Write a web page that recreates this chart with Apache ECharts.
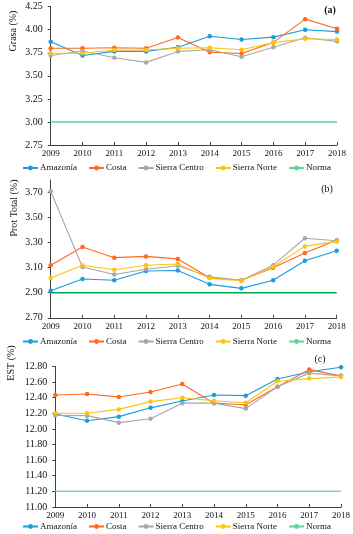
<!DOCTYPE html>
<html><head><meta charset="utf-8">
<script src="https://cdn.jsdelivr.net/npm/echarts@6/dist/echarts.min.js"></script>
<style>html,body{margin:0;padding:0;background:#fff}#c{width:353px;height:534px}</style>
</head><body><div id="c"></div>
<script>
const years = ['2009','2010','2011','2012','2013','2014','2015','2016','2017','2018'];
const seriesNames = ['Amazonía','Costa','Sierra Centro','Sierra Norte','Norma'];

// (a) Grasa (%)
const grasaAmazonia = [3.87,3.72,3.765,3.765,3.81,3.93,3.895,3.92,4.00,3.98];
const grasaCosta = [3.80,3.80,3.805,3.80,3.915,3.757,3.743,3.863,4.115,4.01];
const grasaSCentro = [3.72,3.77,3.696,3.646,3.765,3.783,3.707,3.81,3.913,3.874];
const grasaSNorte = [3.745,3.745,3.78,3.78,3.80,3.804,3.783,3.86,3.902,3.895];
const grasaNorma = 3.00;

// (b) Prot Total (%)
const protAmazonia = [2.916,3.01,3.00,3.073,3.078,2.967,2.935,3.00,3.155,3.235];
const protCosta = [3.12,3.265,3.18,3.19,3.17,3.02,3.00,3.10,3.218,3.32];
const protSCentro = [3.71,3.105,3.045,3.088,3.115,3.027,3.00,3.12,3.335,3.315];
const protSNorte = [3.017,3.12,3.083,3.12,3.13,3.015,2.996,3.107,3.27,3.31];
const protNorma = 2.90;

// (c) EST (%)
const estAmazonia = [12.19,12.105,12.157,12.27,12.358,12.435,12.426,12.64,12.733,12.79];
const estCosta = [12.435,12.447,12.41,12.473,12.576,12.33,12.31,12.54,12.76,12.68];
const estSCentro = [12.174,12.17,12.08,12.13,12.33,12.33,12.26,12.54,12.715,12.68];
const estSNorte = [12.20,12.20,12.25,12.35,12.40,12.36,12.335,12.61,12.645,12.665];
const estNorma = 11.20;

const colors = {'Amazonía':'#1A9DDA','Costa':'#FF6A1C','Sierra Centro':'#A8A8A8','Sierra Norte':'#FFC20E','Norma':'#2DB56C'};
const normaColors = ['#5ED49A','#00A54F','#7ED9A5'];
const FONT = 'Liberation Serif';

const grids = [
  {left:50.7, right:16, top:6.7, height:138.3},
  {left:50.7, right:16.3, top:180, height:137.8},
  {left:55.3, right:12, top:366.5, height:140.4}
];
const yCfg = [
  {min:2.75, max:4.25, interval:0.25},
  {min:2.7, max:3.8, interval:0.2},
  {min:11.0, max:12.8, interval:0.2}
];
const data = [
  [grasaAmazonia,grasaCosta,grasaSCentro,grasaSNorte,grasaNorma],
  [protAmazonia,protCosta,protSCentro,protSNorte,protNorma],
  [estAmazonia,estCosta,estSCentro,estSNorte,estNorma]
];

const xAxis = [], yAxis = [], series = [];
for (let g=0; g<3; g++){
  xAxis.push({type:'category', gridIndex:g, data:years, boundaryGap:false,
    axisLine:{lineStyle:{color:'#404040',width:1}},
    axisTick:{show:true,length:3,inside:true,lineStyle:{color:'#404040'}},
    axisLabel:{color:'#111',fontFamily:FONT,fontSize:9,margin:4},
    splitLine:{show:false}});
  yAxis.push({type:'value', gridIndex:g, min:yCfg[g].min, max:yCfg[g].max, interval:yCfg[g].interval,
    axisLine:{show:true,lineStyle:{color:'#404040',width:1}},
    axisTick:{show:true,length:3,lineStyle:{color:'#404040'}},
    axisLabel:{color:'#111',fontFamily:FONT,fontSize:10,margin:8,showMaxLabel:g!==1,
      formatter:v=>v.toFixed(2)},
    splitLine:{show:false}});
  for (let s=0; s<5; s++){
    const name = seriesNames[s];
    if (s<4){
      series.push({name, type:'line', xAxisIndex:g, yAxisIndex:g, data:data[g][s],
        symbol:'circle', symbolSize:4.5, showSymbol:true,
        itemStyle:{color:colors[name]}, lineStyle:{color:colors[name],width:1.1},
        emphasis:{disabled:true}, animation:false, z:3+s});
    } else {
      series.push({name, type:'line', xAxisIndex:g, yAxisIndex:g, data:years.map(()=>data[g][4]),
        symbol:'none', showSymbol:false,
        itemStyle:{color:normaColors[g]}, lineStyle:{color:normaColors[g],width:1.5},
        emphasis:{disabled:true}, animation:false, z:2});
    }
  }
}

const legendTops = [163.5, 337, 522];
const legend = legendTops.map(t=>({top:t, left:'center', data:seriesNames, itemWidth:15, itemHeight:6,
  itemGap:11, textStyle:{fontFamily:FONT,fontSize:9,color:'#111',padding:[0,0,0,-3]}, padding:0,
  selectedMode:false}));

const graphic = [
  {type:'text', x:13, y:31, rotation:Math.PI/2, style:{text:'Grasa (%)',font:'10px "Liberation Serif"',fill:'#111',align:'center',verticalAlign:'middle'}},
  {type:'text', x:14, y:208, rotation:Math.PI/2, style:{text:'Prot Total (%)',font:'10px "Liberation Serif"',fill:'#111',align:'center',verticalAlign:'middle'}},
  {type:'text', x:11, y:363, rotation:Math.PI/2, style:{text:'EST (%)',font:'10px "Liberation Serif"',fill:'#111',align:'center',verticalAlign:'middle'}},
  {type:'text', x:330, y:10, style:{text:'(a)',font:'bold 10px "Liberation Serif"',fill:'#111',align:'center',verticalAlign:'middle'}},
  {type:'text', x:327, y:189, style:{text:'(b)',font:'10px "Liberation Serif"',fill:'#111',align:'center',verticalAlign:'middle'}},
  {type:'text', x:320, y:359, style:{text:'(c)',font:'10px "Liberation Serif"',fill:'#111',align:'center',verticalAlign:'middle'}}
];

const chart = echarts.init(document.getElementById('c'), null, {renderer:'canvas'});
chart.setOption({animation:false, grid:grids, xAxis, yAxis, series, legend, graphic});
</script></body></html>
